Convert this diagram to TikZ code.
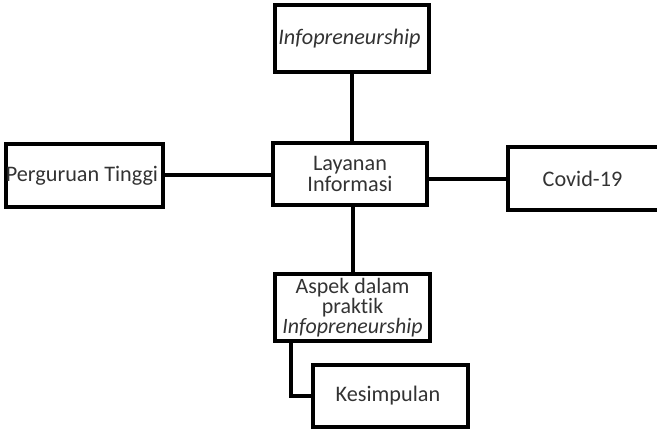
\documentclass[tikz,border=0pt]{standalone}
\usepackage{fontspec}
\setmainfont{Carlito}[Ligatures=NoCommon]

\begin{document}
\begin{tikzpicture}[x=0.025cm, y=-0.025cm]
  \tikzstyle{topic}=[rectangle, draw = black, line width = 0.1cm, minimum width = 3.85cm, minimum height = 1.55cm, inner sep = 0pt, align = center, font = \fontsize{15.8}{14.5}\selectfont, text = black!80]
  \tikzstyle{link}=[line width = 0.1cm]

  \useasboundingbox (0,0) rectangle (657,428);
  \clip (0,0) rectangle (657,428);

  \node[topic, minimum height = 1.68cm] (info) at (352,38.5) { \textit{Infopreneurship} };
  \node[topic] (layanan) at (350,174) { Layanan\\Informasi };
  \node[topic] (pt) at (84.5,175.5) { Perguruan Tinggi };
  \node[topic, minimum height = 1.58cm] (covid) at (585,178.5) { Covid-19 };
  \node[topic, minimum height = 1.65cm, font = \fontsize{15.6}{12.8}\selectfont] (aspek) at (352.5,307.5) { Aspek dalam\\praktik\\\textit{Infopreneurship} };
  \node[topic] (kes) at (390.5,396) { Kesimpulan };

  \draw[link] (info.south) -- (info.south |- layanan.north);
  \draw[link] (pt.east |- 0,175) -- (layanan.west |- 0,175);
  \draw[link] (covid.west -| layanan.east) -- (covid.west);
  \draw[link] (aspek.north |- layanan.south) -- (aspek.north);
  \draw[link] ([xshift = 0.45cm] aspek.south west) |- (kes.west);

\end{tikzpicture}
\end{document}
